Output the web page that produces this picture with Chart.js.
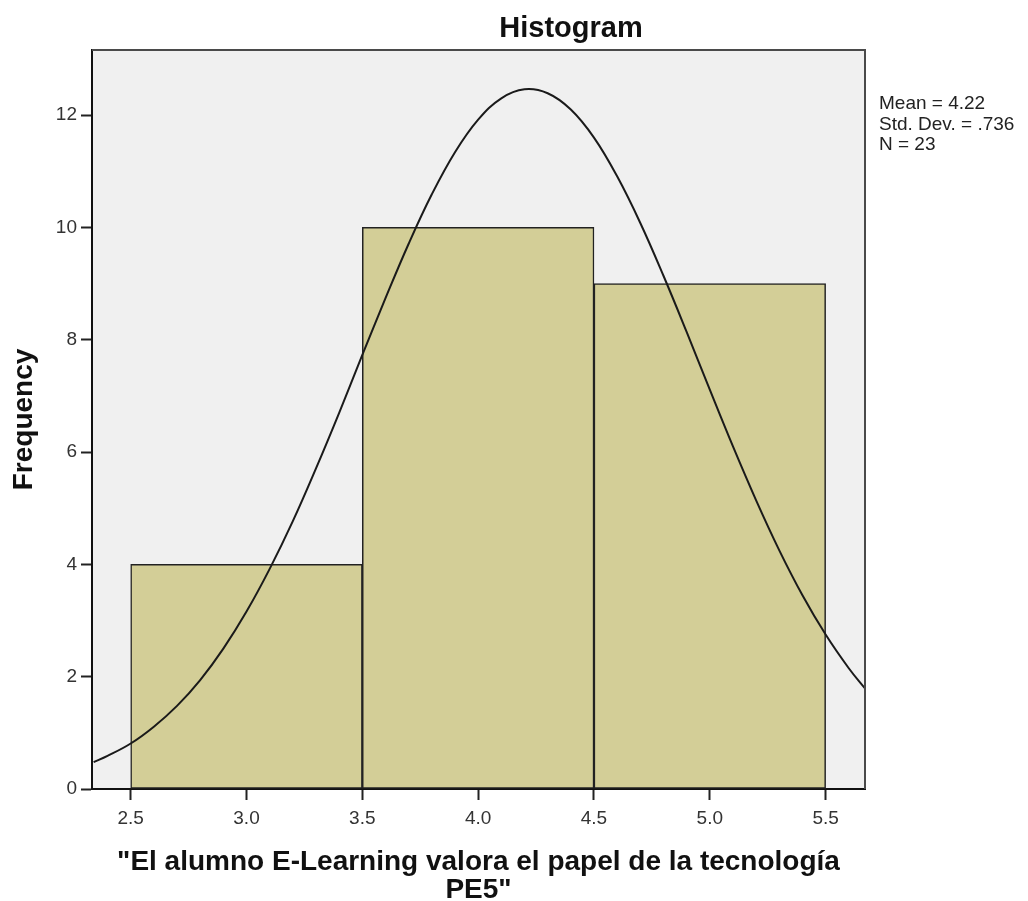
<!DOCTYPE html>
<html>
<head>
<meta charset="utf-8">
<script src="https://cdn.jsdelivr.net/npm/chart.js@4.4.0/dist/chart.umd.min.js"></script>
<style>
html,body{margin:0;padding:0;background:#ffffff;}
#wrap{width:1028px;height:901px;position:relative;}
</style>
</head>
<body>
<div id="wrap"><canvas id="c" width="1028" height="901"></canvas></div>
<script>
// ---- data ----
const chartTitle = 'Histogram';
const xAxisTitle = ['"El alumno E-Learning valora el papel de la tecnología', 'PE5"'];
const yAxisTitle = 'Frequency';
const binCenters = [3.0, 4.0, 5.0];
const frequencies = [4, 10, 9];
const xTickValues = [2.5, 3.0, 3.5, 4.0, 4.5, 5.0, 5.5];
const xTickLabels = ['2.5', '3.0', '3.5', '4.0', '4.5', '5.0', '5.5'];
const yTickValues = [0, 2, 4, 6, 8, 10, 12];
const yTickLabels = ['0', '2', '4', '6', '8', '10', '12'];
const curveX = [2.34, 2.4, 2.5, 2.6, 2.7, 2.8, 2.9, 3.0, 3.1, 3.2, 3.3, 3.4, 3.5, 3.6, 3.7, 3.8, 3.9, 4.0, 4.1, 4.2, 4.3, 4.4, 4.5, 4.6, 4.7, 4.8, 4.9, 5.0, 5.1, 5.2, 5.3, 5.4, 5.5, 5.6, 5.67];
const curveY = [0.48, 0.59, 0.81, 1.11, 1.48, 1.94, 2.50, 3.16, 3.92, 4.77, 5.71, 6.70, 7.73, 8.74, 9.71, 10.59, 11.34, 11.92, 12.30, 12.46, 12.39, 12.10, 11.60, 10.91, 10.08, 9.14, 8.14, 7.11, 6.10, 5.14, 4.25, 3.45, 2.75, 2.15, 1.79];
const statsLines = ['Mean = 4.22', 'Std. Dev. = .736', 'N = 23'];
const xMin = 2.333, xMax = 5.67;
const yMin = 0, yMax = 13.16;

// ---- styles ----
const FONT = "'Liberation Sans', Arial, Helvetica, sans-serif";
const plotBg = '#F0F0F0';
const barFill = '#D3CE97';
const lineDark = '#1a1a1a';

const decorPlugin = {
  id: 'decor',
  beforeDraw(chart) {
    const {ctx, chartArea: a} = chart;
    ctx.save();
    ctx.fillStyle = plotBg;
    ctx.fillRect(a.left, a.top, a.right - a.left, a.bottom - a.top);
    ctx.restore();
  },
  afterDraw(chart) {
    const {ctx, chartArea: a} = chart;
    ctx.save();
    ctx.strokeStyle = '#4a4a4a';
    ctx.lineWidth = 2;
    ctx.beginPath();
    ctx.moveTo(a.left, a.top);
    ctx.lineTo(a.right, a.top);
    ctx.lineTo(a.right, a.bottom);
    ctx.stroke();
    ctx.fillStyle = '#111';
    ctx.font = "bold 29px " + FONT;
    ctx.textAlign = 'center';
    ctx.textBaseline = 'alphabetic';
    ctx.fillText(chartTitle, 571, 37);
    ctx.font = "19px " + FONT;
    ctx.fillStyle = '#222';
    ctx.textAlign = 'left';
    statsLines.forEach((s, i) => ctx.fillText(s, 879, 109 + i * 20.5));
    ctx.restore();
  }
};

const ctx = document.getElementById('c').getContext('2d');
new Chart(ctx, {
  type: 'bar',
  data: {
    datasets: [
      {
        type: 'line',
        label: 'Normal',
        data: curveX.map((x, i) => ({x: x, y: curveY[i]})),
        xAxisID: 'x',
        yAxisID: 'y',
        borderColor: lineDark,
        borderWidth: 2,
        pointRadius: 0,
        tension: 0.4,
        fill: false,
        order: 0
      },
      {
        type: 'bar',
        label: 'Frequency',
        data: binCenters.map((x, i) => ({x: x, y: frequencies[i]})),
        xAxisID: 'xb',
        yAxisID: 'y',
        backgroundColor: barFill,
        borderColor: '#222',
        borderWidth: 1.5,
        borderSkipped: false,
        barPercentage: 1,
        categoryPercentage: 1,
        grouped: false,
        order: 1
      }
    ]
  },
  options: {
    responsive: false,
    animation: false,
    events: [],
    layout: {padding: {top: 50, right: 163, bottom: 0, left: 0}},
    plugins: {legend: {display: false}, tooltip: {enabled: false}, title: {display: false}},
    scales: {
      x: {
        type: 'linear',
        position: 'bottom',
        offset: false,
        min: xMin, max: xMax,
        afterBuildTicks: (s) => { s.ticks = xTickValues.map(v => ({value: v})); },
        afterFit: (s) => { s.height = 112; },
        ticks: {
          callback: (v, i) => xTickLabels[i],
          font: {family: FONT, size: 19},
          color: '#333',
          padding: 7,
          maxRotation: 0,
          autoSkip: false
        },
        grid: {display: true, offset: false, drawOnChartArea: false, drawTicks: true, tickLength: 11, tickColor: '#222', tickWidth: 2},
        border: {display: true, color: '#111', width: 2},
        title: {
          display: true,
          text: xAxisTitle,
          font: {family: FONT, size: 28, weight: 'bold', lineHeight: 1},
          color: '#111',
          padding: {top: 0, bottom: -3}
        }
      },
      xb: {
        type: 'linear',
        display: false,
        offset: false,
        grid: {offset: false},
        min: xMin, max: xMax,
        afterBuildTicks: (s) => { s.ticks = binCenters.map(v => ({value: v})); }
      },
      y: {
        type: 'linear',
        position: 'left',
        min: yMin, max: yMax,
        afterBuildTicks: (s) => { s.ticks = yTickValues.map(v => ({value: v})); },
        afterFit: (s) => { s.width = 92; },
        ticks: {
          callback: (v, i) => yTickLabels[i],
          font: {family: FONT, size: 19},
          color: '#333',
          padding: 4
        },
        grid: {display: true, drawOnChartArea: false, drawTicks: true, tickLength: 11, tickColor: '#222', tickWidth: 2},
        border: {display: true, color: '#111', width: 2},
        title: {
          display: true,
          text: yAxisTitle,
          font: {family: FONT, size: 28, weight: 'bold', lineHeight: 1},
          color: '#111',
          padding: {top: 10, bottom: 0}
        }
      }
    }
  },
  plugins: [decorPlugin]
});
</script>
</body>
</html>
